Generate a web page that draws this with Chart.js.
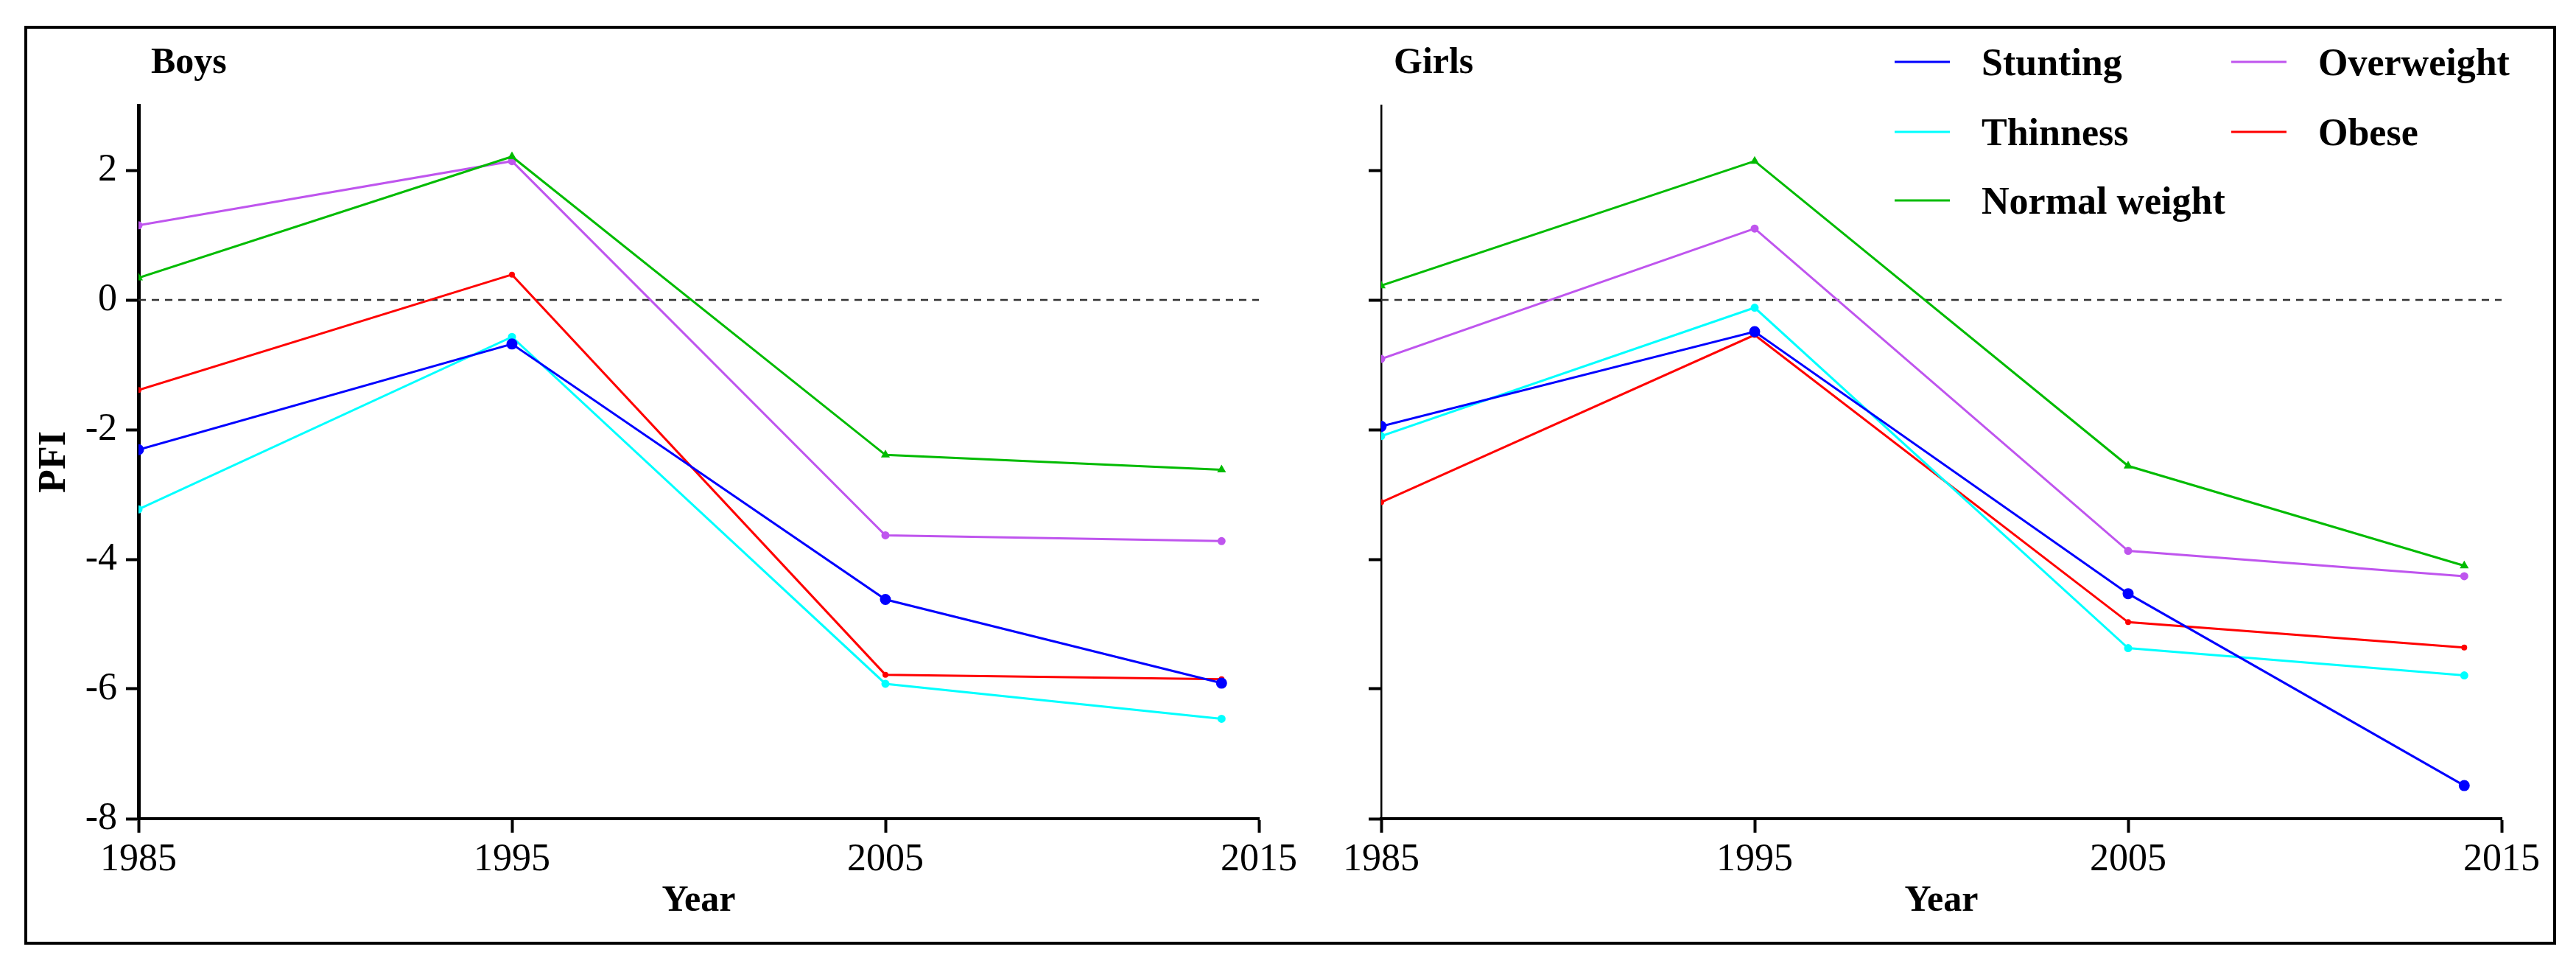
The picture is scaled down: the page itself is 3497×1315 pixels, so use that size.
<!DOCTYPE html>
<html>
<head>
<meta charset="utf-8">
<script src="https://cdn.jsdelivr.net/npm/chart.js@4.4.1/dist/chart.umd.min.js"></script>
<style>
  html, body { margin: 0; padding: 0; background: #fff; }
  body { width: 3497px; height: 1315px; position: relative; overflow: hidden; }
  #frame { position: absolute; left: 33px; top: 35px; width: 3437px; height: 1247px;
           border: 4px solid #000; box-sizing: border-box; }
  #boysBox { position: absolute; left: 0; top: 0; width: 1790px; height: 1315px; }
  #girlsBox { position: absolute; left: 1790px; top: 0; width: 1707px; height: 1315px; }
</style>
</head>
<body>
<div id="frame"></div>
<div id="boysBox"><canvas id="boysChart"></canvas></div>
<div id="girlsBox"><canvas id="girlsChart"></canvas></div>
<script>
// data
var years = [1985, 1995, 2005, 2014];
var xTicks = [1985, 1995, 2005, 2015];
var yTicks = [-8, -6, -4, -2, 0, 2];
var yMin = -8, yMax = 3;
var zeroLine = 0;

var seriesNames = ['Stunting', 'Thinness', 'Normal weight', 'Overweight', 'Obese'];
var seriesColors = ['#0000ff', '#00ffff', '#00bb00', '#bf55ee', '#ff0000'];

var boysStunting   = [-2.31, -0.68, -4.62, -5.91];
var boysThinness   = [-3.23, -0.57, -5.92, -6.46];
var boysNormal     = [0.34, 2.21, -2.39, -2.62];
var boysOverweight = [1.15, 2.14, -3.63, -3.72];
var boysObese      = [-1.39, 0.39, -5.78, -5.85];

var girlsStunting   = [-1.95, -0.49, -4.53, -7.49];
var girlsThinness   = [-2.10, -0.12, -5.37, -5.79];
var girlsNormal     = [0.22, 2.14, -2.56, -4.10];
var girlsOverweight = [-0.91, 1.10, -3.87, -4.26];
var girlsObese      = [-3.12, -0.54, -4.97, -5.36];

Chart.defaults.font.family = '"Liberation Serif", "Times New Roman", serif';
Chart.defaults.color = '#000';

function pts(vals) {
  return vals.map(function (v, i) { return { x: years[i], y: v }; });
}

function makeDatasets(series) {
  var sets = series.map(function (vals, i) {
    var c = seriesColors[i];
    return {
      label: seriesNames[i],
      data: pts(vals),
      borderColor: c,
      backgroundColor: c,
      pointBackgroundColor: c,
      pointBorderColor: c,
      borderWidth: 3,
      pointRadius: i == 0 ? 6 : (i == 4 ? 2.5 : 4),
      pointStyle: i == 2 ? 'triangle' : 'circle',
      tension: 0
    };
  });
  // dashed reference line at 0
  sets.push({
    label: '',
    data: [{ x: xTicks[0], y: zeroLine }, { x: xTicks[xTicks.length - 1], y: zeroLine }],
    borderColor: '#333',
    borderWidth: 2.5,
    borderDash: [10, 8],
    pointRadius: 0
  });
  return sets;
}

// "Boys" / "Girls" label at the top left of each panel
var panelTitle = {
  id: 'panelTitle',
  afterDraw: function (chart, args, opts) {
    var ctx = chart.ctx;
    ctx.save();
    ctx.font = 'bold 50px "Liberation Serif"';
    ctx.fillStyle = '#000';
    ctx.textBaseline = 'alphabetic';
    ctx.fillText(opts.text, chart.chartArea.left + 17, 99);
    ctx.restore();
  }
};

// two column legend, drawn only on the girls panel
var sideLegend = {
  id: 'sideLegend',
  afterDraw: function (chart, args, opts) {
    if (!opts.show) return;
    var ctx = chart.ctx;
    var cols = [782, 1239];
    var rows = [84, 179, 272];
    ctx.save();
    ctx.font = 'bold 52px "Liberation Serif"';
    ctx.textBaseline = 'alphabetic';
    chart.data.datasets.forEach(function (ds, i) {
      if (!ds.label) return;
      var x = cols[Math.floor(i / 3)], y = rows[i % 3];
      ctx.strokeStyle = ds.borderColor;
      ctx.lineWidth = 3;
      ctx.beginPath();
      ctx.moveTo(x, y);
      ctx.lineTo(x + 75, y);
      ctx.stroke();
      ctx.fillStyle = '#000';
      ctx.fillText(ds.label, x + 118, y + 18);
    });
    ctx.restore();
  }
};

function makeOptions(isBoys) {
  return {
    responsive: true,
    maintainAspectRatio: false,
    animation: false,
    layout: { padding: { top: 143, right: isBoys ? 81 : 101, bottom: 0, left: 0 } },
    plugins: {
      legend: { display: false },
      tooltip: { enabled: false },
      panelTitle: { text: isBoys ? 'Boys' : 'Girls' },
      sideLegend: { show: !isBoys }
    },
    scales: {
      x: {
        type: 'linear',
        min: xTicks[0],
        max: xTicks[xTicks.length - 1],
        afterBuildTicks: function (s) { s.ticks = xTicks.map(function (v) { return { value: v }; }); },
        afterFit: function (s) { s.height = 204; },
        grid: { drawOnChartArea: false, tickLength: 19, tickWidth: 4, tickColor: '#000' },
        border: { display: true, color: '#000', width: 4 },
        ticks: {
          color: '#000', font: { size: 52 }, padding: 6, maxRotation: 0, autoSkip: false,
          callback: function (v) { return String(v); }
        },
        title: {
          display: true, text: 'Year', color: '#000',
          font: { size: 50, weight: 'bold' }, padding: { top: 0, bottom: 62 }
        }
      },
      y: {
        min: yMin,
        max: yMax,
        afterBuildTicks: function (s) { s.ticks = yTicks.map(function (v) { return { value: v }; }); },
        afterFit: function (s) { s.width = isBoys ? 188 : 85; },
        grid: { drawOnChartArea: false, tickLength: 17, tickWidth: 4, tickColor: '#000' },
        border: { display: true, color: '#000', width: isBoys ? 5 : 2.5 },
        ticks: {
          display: isBoys, color: '#000', font: { size: 52 }, padding: 12,
          callback: function (v) { return String(v); }
        },
        title: {
          display: isBoys, text: 'PFI', color: '#000',
          font: { size: 52, weight: 'bold' }, padding: { top: 43, bottom: 0 }
        }
      }
    }
  };
}

new Chart(document.getElementById('boysChart'), {
  type: 'line',
  data: { datasets: makeDatasets([boysStunting, boysThinness, boysNormal, boysOverweight, boysObese]) },
  options: makeOptions(true),
  plugins: [panelTitle, sideLegend]
});

new Chart(document.getElementById('girlsChart'), {
  type: 'line',
  data: { datasets: makeDatasets([girlsStunting, girlsThinness, girlsNormal, girlsOverweight, girlsObese]) },
  options: makeOptions(false),
  plugins: [panelTitle, sideLegend]
});
</script>
</body>
</html>
